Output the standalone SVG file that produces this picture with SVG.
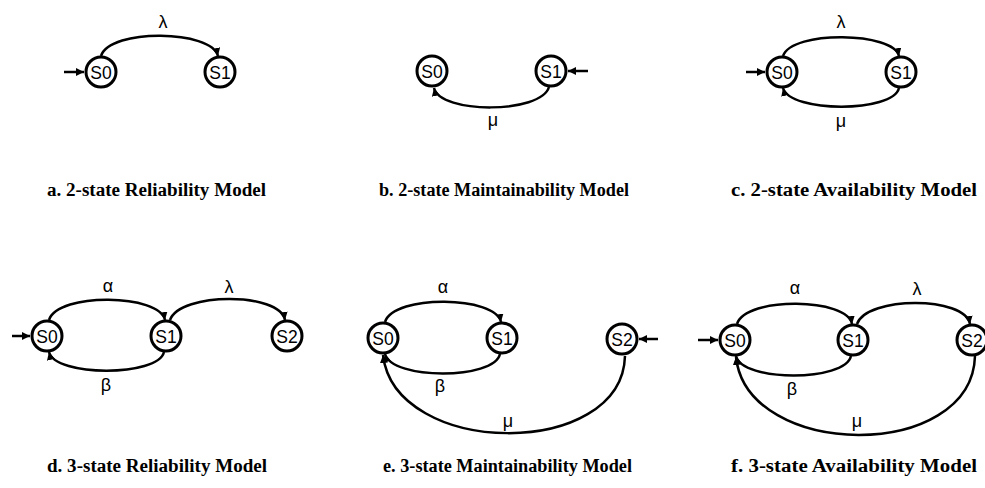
<svg xmlns="http://www.w3.org/2000/svg" width="985" height="488" viewBox="0 0 985 488">
<style>
.n circle{fill:#fff;stroke:#000;stroke-width:3}
.n text{font-family:"Liberation Sans",Arial,sans-serif;font-size:17.5px;text-anchor:middle;fill:#000}
.e path,.e line{fill:none;stroke:#000;stroke-width:2.5;marker-end:url(#ah)}
.lbl{font-family:"Liberation Sans",Arial,sans-serif;font-size:18px;text-anchor:middle;fill:#000}
.cap{font-family:"Liberation Serif","Times New Roman",serif;font-size:18px;font-weight:bold;fill:#000}
</style>
<defs>
<marker id="ah" markerUnits="userSpaceOnUse" markerWidth="10" markerHeight="10" refX="8" refY="4" orient="auto">
<path d="M0,0 L8,4 L0,8 Z" fill="#000"/>
</marker>
</defs>
<rect width="985" height="488" fill="#fff"/>

<g id="connectors" class="e">
<!-- a -->
<line x1="64" y1="72" x2="84" y2="72"/>
<path d="M101,56 C110,28 212,30 218,56"/>
<!-- b -->
<line x1="588" y1="71" x2="568" y2="71"/>
<path d="M549,87 C541,114 440,114 434,88"/>
<!-- c -->
<line x1="746" y1="72" x2="765" y2="72"/>
<path d="M783,56 C792,30 894,32 899,56"/>
<path d="M899,88 C893,113 790,113 783,88"/>
<!-- d -->
<line x1="12" y1="336" x2="30" y2="336"/>
<path d="M49,320 C58,292 160,294 165,320"/>
<path d="M170,320 C180,292 280,292 285,320"/>
<path d="M164,352 C158,377 55,377 49,352"/>
<!-- e -->
<line x1="658" y1="339" x2="639" y2="339"/>
<path d="M385,322 C394,294 496,296 501,322"/>
<path d="M500,354 C494,380 392,380 385,354"/>
<path d="M625,356 C622,460 395,458 383,355"/>
<!-- f -->
<line x1="698" y1="340" x2="718" y2="340"/>
<path d="M737,324 C746,296 848,298 852,324"/>
<path d="M857,324 C867,296 965,296 970,324"/>
<path d="M851,356 C845,382 742,382 736,356"/>
<path d="M975,356 C972,462 747,460 736,357"/>
</g>

<g id="labels">
<text class="lbl" x="163" y="28">λ</text>
<text class="lbl" x="493" y="126">μ</text>
<text class="lbl" x="841" y="28">λ</text>
<text class="lbl" x="841" y="127">μ</text>
<text class="lbl" x="108" y="292">α</text>
<text class="lbl" x="229" y="293">λ</text>
<text class="lbl" x="106" y="391">β</text>
<text class="lbl" x="443" y="293">α</text>
<text class="lbl" x="440" y="392">β</text>
<text class="lbl" x="508" y="427">μ</text>
<text class="lbl" x="795" y="294">α</text>
<text class="lbl" x="917" y="295">λ</text>
<text class="lbl" x="792" y="395">β</text>
<text class="lbl" x="857" y="427">μ</text>
</g>

<g id="a-S0" class="n"><circle cx="101" cy="72" r="15"/><text x="101" y="78.5">S0</text></g>
<g id="a-S1" class="n"><circle cx="220" cy="72" r="15"/><text x="220" y="78.5">S1</text></g>
<g id="b-S0" class="n"><circle cx="432" cy="71" r="15"/><text x="432" y="77.5">S0</text></g>
<g id="b-S1" class="n"><circle cx="551" cy="71" r="15"/><text x="551" y="77.5">S1</text></g>
<g id="c-S0" class="n"><circle cx="782" cy="72" r="15"/><text x="782" y="78.5">S0</text></g>
<g id="c-S1" class="n"><circle cx="901" cy="72" r="15"/><text x="901" y="78.5">S1</text></g>
<g id="d-S0" class="n"><circle cx="47" cy="336" r="15"/><text x="47" y="342.5">S0</text></g>
<g id="d-S1" class="n"><circle cx="166" cy="336" r="15"/><text x="166" y="342.5">S1</text></g>
<g id="d-S2" class="n"><circle cx="287" cy="336" r="15"/><text x="287" y="342.5">S2</text></g>
<g id="e-S0" class="n"><circle cx="383" cy="338" r="15"/><text x="383" y="344.5">S0</text></g>
<g id="e-S1" class="n"><circle cx="502" cy="338" r="15"/><text x="502" y="344.5">S1</text></g>
<g id="e-S2" class="n"><circle cx="622" cy="339" r="15"/><text x="622" y="345.5">S2</text></g>
<g id="f-S0" class="n"><circle cx="735" cy="340" r="15"/><text x="735" y="346.5">S0</text></g>
<g id="f-S1" class="n"><circle cx="853" cy="340" r="15"/><text x="853" y="346.5">S1</text></g>
<g id="f-S2" class="n"><circle cx="972" cy="340" r="15"/><text x="972" y="346.5">S2</text></g>

<g id="captions">
<text class="cap" x="47" y="196" textLength="219" lengthAdjust="spacingAndGlyphs">a. 2-state Reliability Model</text>
<text class="cap" x="379" y="196" textLength="250" lengthAdjust="spacingAndGlyphs">b. 2-state Maintainability Model</text>
<text class="cap" x="731" y="196" textLength="246" lengthAdjust="spacingAndGlyphs">c. 2-state Availability Model</text>
<text class="cap" x="47" y="472" textLength="220" lengthAdjust="spacingAndGlyphs">d. 3-state Reliability Model</text>
<text class="cap" x="383" y="472" textLength="249" lengthAdjust="spacingAndGlyphs">e. 3-state Maintainability Model</text>
<text class="cap" x="731" y="472" textLength="246" lengthAdjust="spacingAndGlyphs">f. 3-state Availability Model</text>
</g>
</svg>
